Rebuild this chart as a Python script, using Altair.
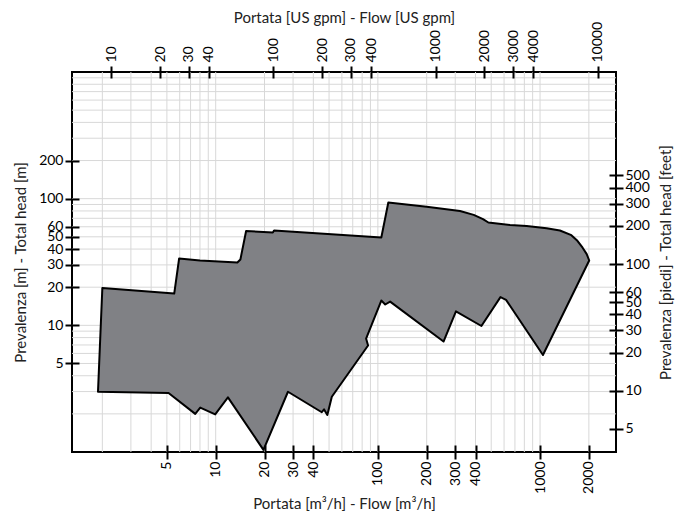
import altair as alt
import pandas as pd

# Pump performance envelope (m3/h, m)
flow_m3h = [2.0, 5.55, 5.95, 8.0, 13.6, 14.2, 15.4, 22.5, 22.9, 105, 116, 200, 321, 390, 445,
            480, 653, 827, 1098, 1326, 1560, 1700, 1830, 1940, 2010,
            1042, 617, 570, 435, 303, 254, 119, 111, 105, 84.6, 87.0, 52.0, 48.8, 46.6, 45.1,
            27.9, 19.7, 11.9, 9.93, 8.03, 7.48, 5.12, 1.88]
head_m = [19.7, 17.8, 33.7, 32.5, 31.3, 33.1, 55.5, 54.1, 56.1, 49.4, 93.3, 86.4, 79.9, 74.5, 69.0,
          64.8, 62.0, 60.8, 58.3, 56.1, 51.5, 46.5, 41.0, 36.5, 32.5,
          5.83, 15.9, 16.7, 9.88, 12.9, 7.45, 15.4, 14.6, 15.7, 7.87, 6.93, 2.73, 1.96, 2.17, 2.06,
          2.99, 1.04, 2.70, 1.98, 2.24, 2.00, 2.92, 2.99]

# Axis tick labels
m3h_ticks = [5, 10, 20, 30, 40, 100, 200, 300, 400, 1000, 2000]
gpm_ticks = [10, 20, 30, 40, 100, 200, 300, 400, 1000, 2000, 3000, 4000, 10000]
m_ticks = [5, 10, 20, 30, 40, 50, 60, 100, 200]
ft_ticks = [5, 10, 20, 30, 40, 50, 60, 100, 200, 300, 400, 500]

# Log grid values
vgrid_vals = [2, 3, 4, 5, 6, 7, 8, 9, 10, 20, 30, 40, 50, 60, 70, 80, 90,
              100, 200, 300, 400, 500, 600, 700, 800, 900, 1000, 2000]
hgrid_vals = [2, 3, 4, 5, 6, 7, 8, 9, 10, 20, 30, 40, 50, 60, 70, 80, 90,
              100, 200, 300, 400, 500, 600, 700, 800, 900]

X_DOMAIN = [1.3, 2940]
Y_DOMAIN = [1, 1000]
GPM_PER_M3H = 4.4029
FT_PER_M = 3.28084

FONT = "Lato"
POLY_FILL = "#808185"
GRID = "#d8d8d8"

poly_df = pd.DataFrame({"q": flow_m3h, "h": head_m, "i": list(range(len(flow_m3h)))})
vgrid_df = pd.DataFrame({"q": vgrid_vals})
hgrid_df = pd.DataFrame({"h": hgrid_vals})
sec_df = pd.DataFrame({
    "gpm": [X_DOMAIN[0] * GPM_PER_M3H, X_DOMAIN[1] * GPM_PER_M3H],
    "ft": [Y_DOMAIN[0] * FT_PER_M, Y_DOMAIN[1] * FT_PER_M],
})

xs = alt.Scale(type="log", domain=X_DOMAIN, nice=False)
ys = alt.Scale(type="log", domain=Y_DOMAIN, nice=False)

x_axis = alt.Axis(
    orient="bottom", values=m3h_ticks, format="d", title="Portata [m³/h] - Flow [m³/h]",
    labelAngle=270, labelAlign="right", labelBaseline="middle", labelOverlap=False,
    tickSize=14, offset=-7, labelPadding=2, titleY=58, titleBaseline="middle",
    domain=False, grid=False, zindex=1)
y_axis = alt.Axis(
    orient="left", values=m_ticks, format="d", title="Prevalenza [m] - Total head [m]",
    labelOverlap=False, tickSize=14, offset=-7, labelPadding=2,
    titleX=-59, titleBaseline="middle", domain=False, grid=False, zindex=1)

vgrid = alt.Chart(vgrid_df).mark_rule(color=GRID, strokeWidth=1).encode(
    x=alt.X("q:Q", scale=xs, axis=x_axis)
)
hgrid = alt.Chart(hgrid_df).mark_rule(color=GRID, strokeWidth=1).encode(
    y=alt.Y("h:Q", scale=ys, axis=y_axis)
)

poly = alt.Chart(poly_df).mark_line(
    fill=POLY_FILL, stroke="black", strokeWidth=2, interpolate="linear-closed", strokeJoin="round"
).encode(
    x=alt.X("q:Q", scale=xs, axis=x_axis),
    y=alt.Y("h:Q", scale=ys, axis=y_axis),
    order=alt.Order("i:Q"),
)

secondary = alt.Chart(sec_df).mark_point(opacity=0).encode(
    x=alt.X("gpm:Q", scale=alt.Scale(type="log", domain=list(sec_df["gpm"]), nice=False),
            axis=alt.Axis(orient="top", values=gpm_ticks, format="d",
                          title="Portata [US gpm] - Flow [US gpm]",
                          labelAngle=270, labelAlign="left", labelBaseline="middle",
                          labelOverlap=False,
                          tickSize=12, offset=-6, labelPadding=4,
                          titleY=-61, titleBaseline="middle",
                          domain=False, grid=False, zindex=1)),
    y=alt.Y("ft:Q", scale=alt.Scale(type="log", domain=list(sec_df["ft"]), nice=False),
            axis=alt.Axis(orient="right", values=ft_ticks, format="d",
                          title="Prevalenza [piedi] - Total head [feet]",
                          titleAngle=270, titleBaseline="middle", titleX=56,
                          labelOverlap=False,
                          tickSize=14, offset=-7, labelPadding=2,
                          domain=False, grid=False, zindex=1)),
)

base = alt.layer(vgrid, hgrid, poly)

chart = alt.layer(base, secondary).resolve_scale(
    x="independent", y="independent"
).properties(
    width=544, height=380,
    autosize=alt.AutoSizeParams(type="none"),
    padding={"left": 64, "top": 64, "right": 59, "bottom": 64},
).configure_view(
    stroke="black", strokeWidth=2
).configure_axis(
    labelFont=FONT, titleFont=FONT, labelFontSize=14, titleFontSize=15,
    labelColor="black", titleColor="#222222", titleFontWeight="normal",
    tickColor="black", tickWidth=2,
)

chart.save("out.html", embed_options={"renderer": "svg", "actions": False})
